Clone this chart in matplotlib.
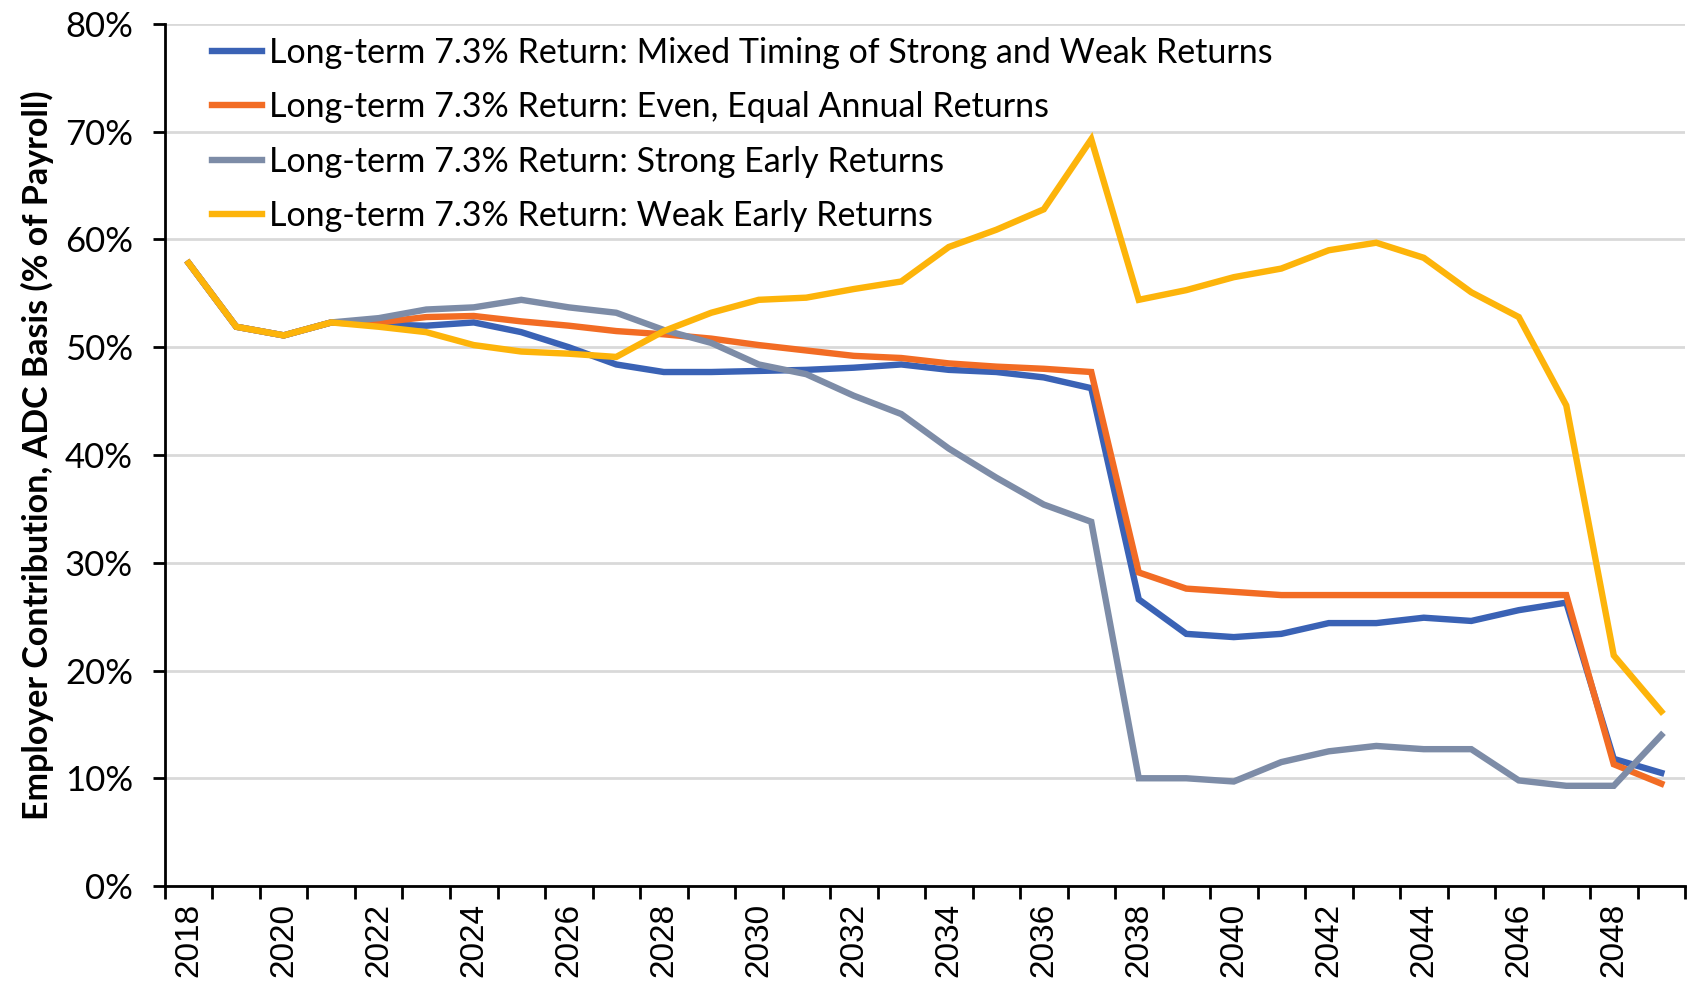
import numpy as np
import matplotlib.pyplot as plt

years = list(range(2018, 2050))

mixed_timing = [57.8, 51.9, 51.1, 52.3, 52.1, 52.0, 52.3, 51.4, 50.0, 48.4, 47.7, 47.7,
                47.8, 47.9, 48.1, 48.4, 47.9, 47.7, 47.2, 46.2, 26.6, 23.4, 23.1, 23.4,
                24.4, 24.4, 24.9, 24.6, 25.6, 26.3, 11.8, 10.5]
even_returns = [57.8, 51.9, 51.1, 52.3, 52.3, 52.8, 52.9, 52.4, 52.0, 51.5, 51.2, 50.8,
                50.2, 49.7, 49.2, 49.0, 48.5, 48.2, 48.0, 47.7, 29.1, 27.6, 27.3, 27.0,
                27.0, 27.0, 27.0, 27.0, 27.0, 27.0, 11.3, 9.5]
strong_early = [57.8, 51.9, 51.1, 52.3, 52.7, 53.5, 53.7, 54.4, 53.7, 53.2, 51.6, 50.4,
                48.4, 47.5, 45.5, 43.8, 40.6, 37.9, 35.4, 33.8, 10.0, 10.0, 9.7, 11.5,
                12.5, 13.0, 12.7, 12.7, 9.8, 9.3, 9.3, 14.0]
weak_early = [57.8, 51.9, 51.1, 52.3, 51.9, 51.4, 50.2, 49.6, 49.4, 49.1, 51.5, 53.2,
              54.4, 54.6, 55.4, 56.1, 59.3, 60.9, 62.8, 69.3, 54.4, 55.3, 56.5, 57.3,
              59.0, 59.7, 58.3, 55.1, 52.8, 44.6, 21.4, 16.2]

series = [
    ("Long-term 7.3% Return: Mixed Timing of Strong and Weak Returns", mixed_timing, "#3a62b5"),
    ("Long-term 7.3% Return: Even, Equal Annual Returns", even_returns, "#f26c24"),
    ("Long-term 7.3% Return: Strong Early Returns", strong_early, "#7d8ca7"),
    ("Long-term 7.3% Return: Weak Early Returns", weak_early, "#fdb40a"),
]

plt.rcParams['font.family'] = ['Lato', 'DejaVu Sans']

fig = plt.figure(figsize=(16.94, 9.86), dpi=100)
ax = fig.add_axes([0.0974, 0.1014, 0.8973, 0.8743])

x = np.arange(len(years))
for label, vals, color in series:
    ax.plot(x, vals, color=color, lw=4.6, label=label, solid_joinstyle='miter')

ax.set_xlim(-0.5, len(years) - 0.5)
ax.set_ylim(0, 80)

# category axis: tick marks between categories, labels on every other one
ax.set_xticks(np.arange(-0.5, len(years), 1.0))
ax.set_xticklabels([])
ax.set_xticks(x[::2], minor=True)
ax.set_xticklabels([str(y) for y in years[::2]], minor=True, rotation=90,
                   fontsize=24, family='Liberation Sans')
ax.tick_params(axis='x', which='major', length=9, width=2, direction='out')
ax.tick_params(axis='x', which='minor', length=0, pad=12)

ax.set_yticks(np.arange(0, 81, 10))
ax.set_yticklabels([f"{v}%" for v in range(0, 81, 10)], fontsize=25)
ax.tick_params(axis='y', length=9, width=2, direction='out', pad=14)

ax.grid(axis='y', color='#d9d9d9', lw=2)
ax.set_axisbelow(True)
for s in ['top', 'right']:
    ax.spines[s].set_visible(False)
ax.spines['left'].set_linewidth(2)
ax.spines['bottom'].set_linewidth(2)

ax.set_ylabel("Employer Contribution, ADC Basis (% of Payroll)", fontsize=24.5,
              fontweight='bold', labelpad=8)

ax.legend(loc='upper left', bbox_to_anchor=(0.02, 1.005), frameon=False, fontsize=24.5,
          handlelength=1.45, handletextpad=0.2, labelspacing=0.66, borderaxespad=0.1)

fig.savefig("out.png", dpi=100)
